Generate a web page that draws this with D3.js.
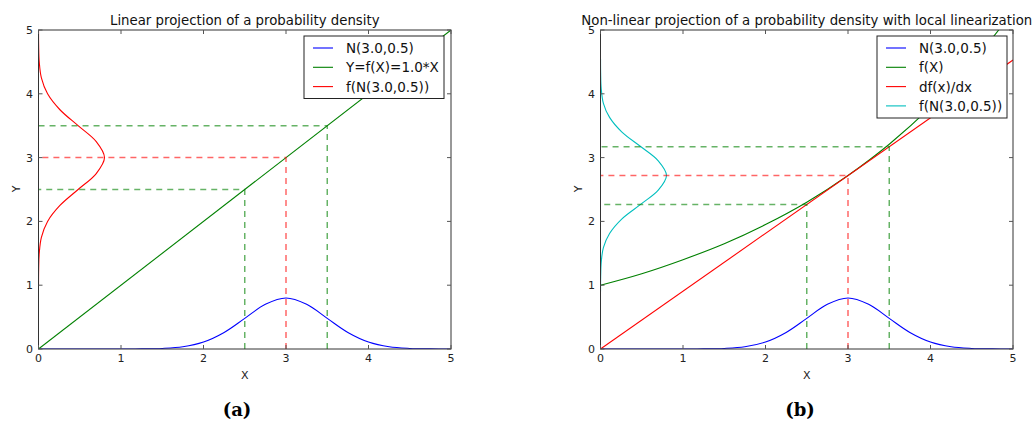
<!doctype html>
<html lang="en">
<head>
    <meta charset="UTF-8">
    <title>D3: Probability density projection</title>
    <script type="text/javascript" src="https://cdn.jsdelivr.net/npm/d3@7"></script>
    <style type="text/css">
        body { margin: 0; background: #fff; }
        svg { font-family: "DejaVu Sans", sans-serif; }
        .frame { fill: none; stroke: #333; stroke-width: 1; }
        .tick-label { font-size: 11px; fill: #222; }
        .title { font-size: 13.3px; fill: #111; }
        .legend-text { font-size: 13.5px; fill: #111; }
        .caption { font-family: "DejaVu Serif", serif; font-weight: bold; font-size: 18px; }
    </style>
</head>
<body>

<script type="text/javascript">
    var w = 1035;
    var h = 423;

    var ticks = [0, 1, 2, 3, 4, 5];

    // N(3.0,0.5) (same in both panels)
    var normX = [0, 0.5, 1.0, 1.25, 1.5, 1.75, 2.0, 2.25, 2.5, 2.75, 3.0, 3.25, 3.5, 3.75, 4.0, 4.25, 4.5, 4.75, 5.0];
    var normY = [0, 0, 0.0003, 0.002, 0.009, 0.035, 0.11, 0.26, 0.48, 0.70, 0.80, 0.70, 0.48, 0.26, 0.11, 0.035, 0.009, 0.002, 0.0003];

    // left panel: Y = 1.0*X and projected density on the Y axis
    var linX = [0, 5];
    var linY = [0, 5];
    var projY = [1.0, 1.25, 1.5, 1.75, 2.0, 2.25, 2.5, 2.75, 3.0, 3.25, 3.5, 3.75, 4.0, 4.25, 4.5, 4.75, 5.0];
    var projD = [0.0003, 0.002, 0.009, 0.035, 0.11, 0.26, 0.48, 0.70, 0.80, 0.70, 0.48, 0.26, 0.11, 0.035, 0.009, 0.002, 0.0003];

    // right panel: f(X), tangent at X=3, linearized density
    var fX = [0, 0.5, 1.0, 1.5, 2.0, 2.5, 3.0, 3.5, 4.0, 4.5, 5.0];
    var fY = [1.00, 1.18, 1.40, 1.65, 1.95, 2.30, 2.72, 3.21, 3.79, 4.48, 5.29];
    var tanX = [0, 5];
    var tanY = [0, 4.53];
    var cyanY = [0.9, 1.13, 1.36, 1.59, 1.81, 2.04, 2.27, 2.49, 2.72, 2.95, 3.17, 3.40, 3.63, 3.85, 4.08, 4.31, 4.55];
    var cyanD = [0.0003, 0.002, 0.009, 0.035, 0.11, 0.26, 0.49, 0.70, 0.80, 0.70, 0.49, 0.26, 0.11, 0.035, 0.009, 0.002, 0.0003];

    // dashed guides: [x, y, colour]
    var guidesA = [[2.5, 2.5, "g"], [3.5, 3.5, "g"], [3.0, 3.0, "r"]];
    var guidesB = [[2.5, 2.265, "g"], [3.5, 3.171, "g"], [3.0, 2.718, "r"]];

    var col = {b: "#0000ff", g: "#008000", r: "#ff0000", c: "#00bfbf"};

    var svg = d3.select("body").append("svg").attr("width", w).attr("height", h);

    function zip(a, b) {
        return a.map(function (d, i) { return [d, b[i]]; });
    }

    function panel(opt) {
        var x = d3.scaleLinear().domain([0, 5]).range([opt.left, opt.right]);
        var y = d3.scaleLinear().domain([0, 5]).range([349, 30]);
        var g = svg.append("g");

        g.append("clipPath").attr("id", opt.id)
            .append("rect").attr("x", opt.left).attr("y", 30)
            .attr("width", opt.right - opt.left).attr("height", 319);

        var plot = g.append("g").attr("clip-path", "url(#" + opt.id + ")");
        var line = d3.line().x(function (d) { return x(d[0]); }).y(function (d) { return y(d[1]); });
        var smooth = d3.line().curve(d3.curveCatmullRom)
            .x(function (d) { return x(d[0]); }).y(function (d) { return y(d[1]); });

        opt.curves.forEach(function (c) {
            plot.append("path")
                .attr("d", (c.smooth ? smooth : line)(c.pts))
                .attr("fill", "none")
                .attr("stroke", c.color)
                .attr("stroke-width", 1.1);
        });

        opt.guides.forEach(function (d) {
            var path = "M" + x(d[0]) + "," + y(0) + "V" + y(d[1]) + "H" + x(0);
            plot.append("path")
                .attr("d", path)
                .attr("fill", "none")
                .attr("stroke", col[d[2]])
                .attr("stroke-opacity", 0.6)
                .attr("stroke-width", 1.5)
                .attr("stroke-dasharray", "6,5");
        });

        // frame and inner ticks on all four sides
        g.append("rect").attr("class", "frame")
            .attr("x", opt.left).attr("y", 30)
            .attr("width", opt.right - opt.left).attr("height", 319);

        ticks.forEach(function (t) {
            g.append("line").attr("x1", x(t)).attr("x2", x(t)).attr("y1", 349).attr("y2", 345).attr("stroke", "#555");
            g.append("line").attr("x1", x(t)).attr("x2", x(t)).attr("y1", 30).attr("y2", 34).attr("stroke", "#555");
            g.append("line").attr("x1", opt.left).attr("x2", opt.left + 4).attr("y1", y(t)).attr("y2", y(t)).attr("stroke", "#555");
            g.append("line").attr("x1", opt.right).attr("x2", opt.right - 4).attr("y1", y(t)).attr("y2", y(t)).attr("stroke", "#555");
            g.append("text").attr("class", "tick-label")
                .attr("x", x(t)).attr("y", 362).attr("text-anchor", "middle").text(t);
            g.append("text").attr("class", "tick-label")
                .attr("x", opt.left - 5.5).attr("y", y(t) + 4).attr("text-anchor", "end").text(t);
        });

        g.append("text").attr("class", "tick-label")
            .attr("x", (opt.left + opt.right) / 2).attr("y", 379).attr("text-anchor", "middle").text("X");
        g.append("text").attr("class", "tick-label")
            .attr("transform", "translate(" + (opt.left - 19) + ",189) rotate(-90)")
            .attr("text-anchor", "middle").text("Y");

        g.append("text").attr("class", "title")
            .attr("x", (opt.left + opt.right) / 2).attr("y", 25)
            .attr("text-anchor", "middle").text(opt.title);

        // legend
        var lg = g.append("g");
        lg.append("rect")
            .attr("x", opt.legend[0]).attr("y", 36)
            .attr("width", opt.legend[1]).attr("height", 19.5 * opt.entries.length + 4)
            .attr("fill", "#fff").attr("stroke", "#222").attr("stroke-width", 1);
        opt.entries.forEach(function (e, i) {
            var ly = 48 + i * 19.3;
            lg.append("line")
                .attr("x1", opt.legend[0] + 9).attr("x2", opt.legend[0] + 29)
                .attr("y1", ly).attr("y2", ly)
                .attr("stroke", e[1]).attr("stroke-width", 1.1);
            lg.append("text").attr("class", "legend-text")
                .attr("x", opt.legend[0] + 42).attr("y", ly + 5).text(e[0]);
        });

        g.append("text").attr("class", "caption")
            .attr("x", opt.caption).attr("y", 416).attr("text-anchor", "middle").text(opt.label);
    }

    panel({
        id: "clipA", left: 38.5, right: 451,
        title: "Linear projection of a probability density",
        curves: [
            {pts: zip(normX, normY), color: col.b, smooth: true},
            {pts: zip(linX, linY), color: col.g},
            {pts: zip(projD, projY), color: col.r, smooth: true}
        ],
        guides: guidesA,
        legend: [304, 140],
        entries: [["N(3.0,0.5)", col.b], ["Y=f(X)=1.0*X", col.g], ["f(N(3.0,0.5))", col.r]],
        caption: 237, label: "(a)"
    });

    panel({
        id: "clipB", left: 600.5, right: 1013,
        title: "Non-linear projection of a probability density with local linearization",
        curves: [
            {pts: zip(normX, normY), color: col.b, smooth: true},
            {pts: zip(fX, fY), color: col.g, smooth: true},
            {pts: zip(tanX, tanY), color: col.r},
            {pts: zip(cyanD, cyanY), color: col.c, smooth: true}
        ],
        guides: guidesB,
        legend: [877, 130],
        entries: [["N(3.0,0.5)", col.b], ["f(X)", col.g], ["df(x)/dx", col.r], ["f(N(3.0,0.5))", col.c]],
        caption: 800, label: "(b)"
    });
</script>

</body>
</html>
